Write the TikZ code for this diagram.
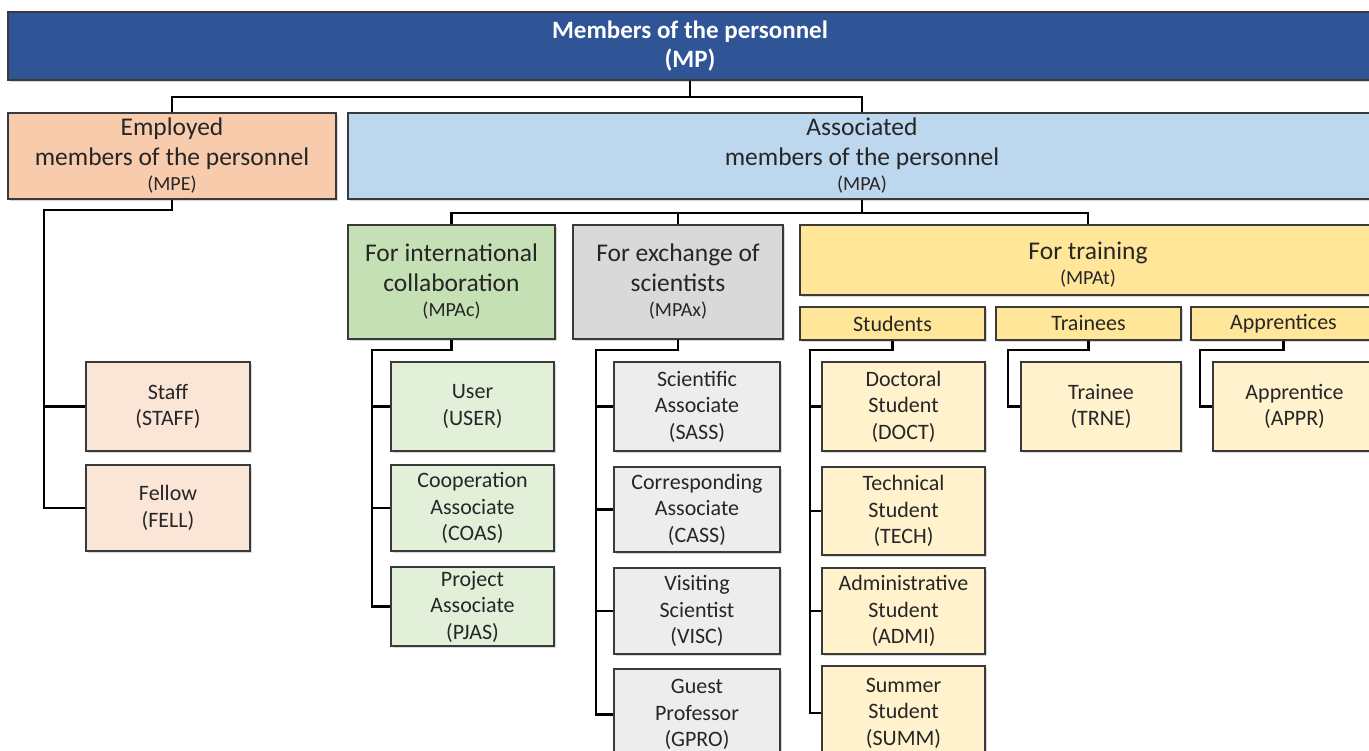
\documentclass[tikz,border=0pt]{standalone}
\usepackage{fontspec}
\setmainfont{Carlito}
\usetikzlibrary{shadows}
\definecolor{mpblue}{HTML}{2F5597}
\definecolor{mpeor}{HTML}{F8CBAD}
\definecolor{mpabl}{HTML}{BDD7EE}
\definecolor{mpacg}{HTML}{C5E0B4}
\definecolor{mpaxg}{HTML}{D9D9D9}
\definecolor{mpaty}{HTML}{FFE699}
\definecolor{chor}{HTML}{FBE5D6}
\definecolor{chgr}{HTML}{E2F0D9}
\definecolor{chgy}{HTML}{EDEDED}
\definecolor{chye}{HTML}{FFF2CC}
\definecolor{boxline}{HTML}{3A3A3A}
\definecolor{textc}{HTML}{262626}
\newcommand{\codefont}{\fontsize{20}{21}\selectfont}
\tikzset{
  box/.style={draw=boxline, line width=1.2pt, rectangle, inner sep=0pt, align=center, text=textc,
    drop shadow={opacity=0.3, shadow xshift=2pt, shadow yshift=-2pt}},
  fbig/.style={font=\fontsize{25.5}{29.5}\selectfont},
  fsmall/.style={font=\fontsize{22}{26.5}\selectfont},
  conn/.style={draw=black, line width=2.6pt},
}
\begin{document}
\begin{tikzpicture}[x=1pt,y=-1pt]
\clip (0,0) rectangle (1369,751);
\fill[white] (0,0) rectangle (1369,751);
% top
\node[box, fill=mpblue, text=white, minimum width=1364pt, minimum height=68pt,
  font=\fontsize{25}{29}\selectfont\bfseries] (mp) at (690,46) {Members of the personnel\\(MP)};
\node[box, fbig, fill=mpeor, minimum width=328pt, minimum height=86pt] (mpe) at (172,156)
  {Employed\\members of the personnel\\[-4pt]{\codefont (MPE)}};
\node[box, fbig, fill=mpabl, minimum width=1028pt, minimum height=86pt] (mpa) at (862,156)
  {Associated\\members of the personnel\\[-4pt]{\codefont (MPA)}};
% MPE children
\node[box, fsmall, fill=chor, minimum width=164pt, minimum height=89pt] (staff) at (168,406.5) {Staff\\(STAFF)};
\node[box, fsmall, fill=chor, minimum width=164pt, minimum height=86pt] (fell) at (168,508) {Fellow\\(FELL)};
% MPA children
\node[box, fbig, fill=mpacg, minimum width=207pt, minimum height=114pt] (mpac) at (451.5,282)
  {For international\\collaboration\\[-4pt]{\codefont (MPAc)}};
\node[box, fbig, fill=mpaxg, minimum width=210pt, minimum height=114pt] (mpax) at (678,282)
  {For exchange of\\scientists\\[-4pt]{\codefont (MPAx)}};
\node[box, fbig, fill=mpaty, minimum width=576pt, minimum height=70pt] (mpat) at (1088,260)
  {\rule{0pt}{27pt}For training\\[-4pt]{\codefont (MPAt)}};
\node[box, fsmall, fill=mpaty, minimum width=185pt, minimum height=33pt] (stud) at (892.5,323.5) {Students};
\node[box, fsmall, fill=mpaty, minimum width=185pt, minimum height=33pt] (trns) at (1088.5,323.5) {Trainees};
\node[box, fsmall, fill=mpaty, minimum width=185pt, minimum height=33pt] (apps) at (1283.5,323.5) {Apprentices};
% green
\node[box, fsmall, fill=chgr, minimum width=163pt, minimum height=89pt] (user) at (472.5,406.5) {User\\(USER)};
\node[box, fsmall, fill=chgr, minimum width=163pt, minimum height=86pt] (coas) at (472.5,508) {Cooperation\\Associate\\(COAS)};
\node[box, fsmall, fill=chgr, minimum width=163pt, minimum height=79pt] (pjas) at (472.5,606.5) {Project\\Associate\\(PJAS)};
% gray
\node[box, fsmall, fill=chgy, minimum width=166pt, minimum height=89pt] (sass) at (697,406.5) {Scientific\\Associate\\(SASS)};
\node[box, fsmall, fill=chgy, minimum width=166pt, minimum height=85pt] (cass) at (697,509.5) {Corresponding\\Associate\\(CASS)};
\node[box, fsmall, fill=chgy, minimum width=166pt, minimum height=86pt] (visc) at (697,611) {Visiting\\Scientist\\(VISC)};
\node[box, fsmall, fill=chgy, minimum width=166pt, minimum height=91pt] (gpro) at (697,714.5) {Guest\\Professor\\(GPRO)};
% yellow
\node[box, fsmall, fill=chye, minimum width=163pt, minimum height=89pt] (doct) at (903.5,406.5) {Doctoral\\Student\\(DOCT)};
\node[box, fsmall, fill=chye, minimum width=163pt, minimum height=88pt] (tech) at (903.5,511) {Technical\\Student\\(TECH)};
\node[box, fsmall, fill=chye, minimum width=163pt, minimum height=86pt] (admi) at (903.5,611) {Administrative\\Student\\(ADMI)};
\node[box, fsmall, fill=chye, minimum width=163pt, minimum height=94pt] (summ) at (903.5,713) {Summer\\Student\\(SUMM)};
\node[box, fsmall, fill=chye, minimum width=160pt, minimum height=89pt] (trne) at (1101,406.5) {Trainee\\(TRNE)};
\node[box, fsmall, fill=chye, minimum width=163pt, minimum height=89pt] (appr) at (1294.5,406.5) {Apprentice\\(APPR)};
% connectors
\coordinate (jmp) at (690,97);
\draw[conn] (mp.south) -- (jmp);
\draw[conn] (mpe.north) -- (mpe.north |- jmp) -- (mpa.north |- jmp) -- (mpa.north);
\coordinate (jmpe) at (44,210);
\draw[conn] (mpe.south) |- (jmpe) |- (fell.west);
\draw[conn] (jmpe |- staff.west) -- (staff.west);
\coordinate (jmpa) at (862,213);
\draw[conn] (mpa.south) -- (jmpa);
\draw[conn] (mpac.north) -- (mpac.north |- jmpa) -- (mpat.north |- jmpa) -- (mpat.north);
\draw[conn] (mpax.north) -- (mpax.north |- jmpa);
\coordinate (jc) at (372,350);
\draw[conn] (mpac.south) |- (jc) |- (pjas.west);
\draw[conn] (jc |- user.west) -- (user.west);
\draw[conn] (jc |- coas.west) -- (coas.west);
\coordinate (jx) at (596,350);
\draw[conn] (mpax.south) |- (jx) |- (gpro.west);
\draw[conn] (jx |- sass.west) -- (sass.west);
\draw[conn] (jx |- cass.west) -- (cass.west);
\draw[conn] (jx |- visc.west) -- (visc.west);
\coordinate (js) at (810,350);
\draw[conn] (stud.south) |- (js) |- (summ.west);
\draw[conn] (js |- doct.west) -- (doct.west);
\draw[conn] (js |- tech.west) -- (tech.west);
\draw[conn] (js |- admi.west) -- (admi.west);
\coordinate (jt) at (1008,350);
\draw[conn] (trns.south) |- (jt) |- (trne.west);
\coordinate (ja) at (1200,350);
\draw[conn] (apps.south) |- (ja) |- (appr.west);
\end{tikzpicture}
\end{document}
